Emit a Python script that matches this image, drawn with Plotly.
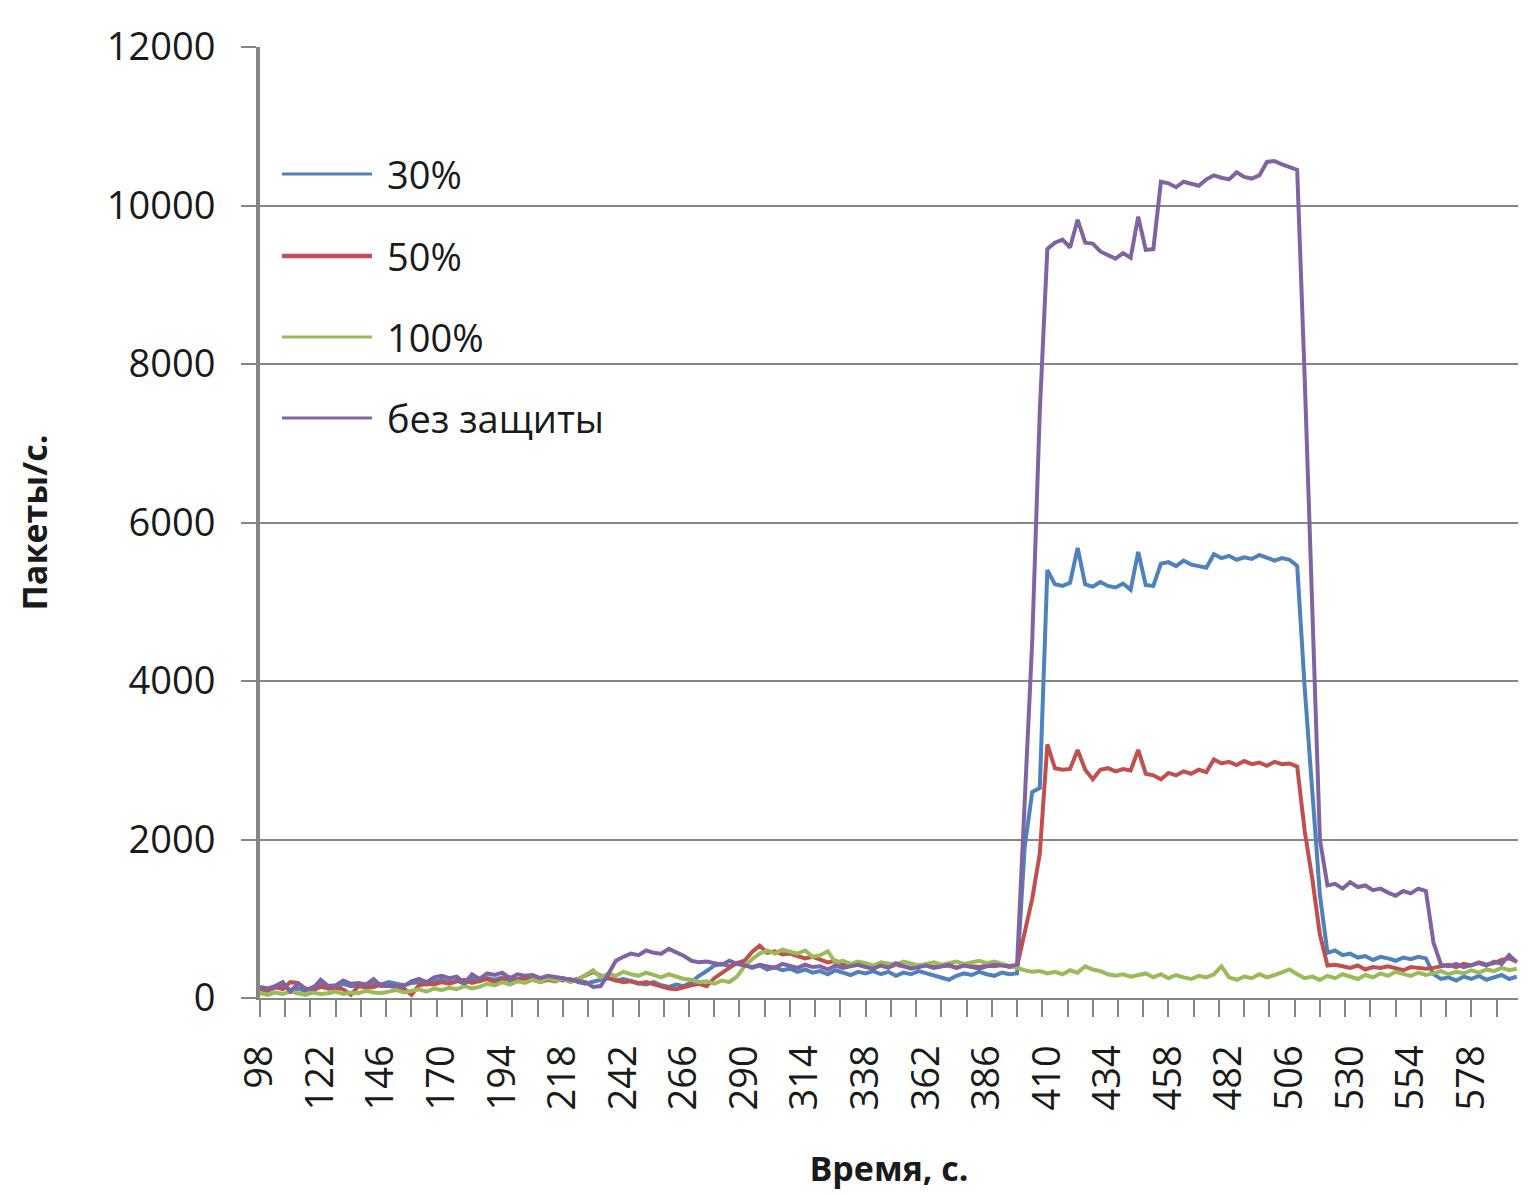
import plotly.graph_objects as go

# Time axis, seconds (sampled every 3 s)
time_s = list(range(98, 597, 3))

# Packets per second for each protection level
p30 = [
    110, 90, 130, 150, 100, 120, 90, 140, 170, 120,
    130, 180, 150, 160, 140, 190, 170, 200, 180, 160,
    190, 200, 170, 210, 230, 200, 220, 180, 240, 210,
    250, 230, 260, 220, 240, 250, 230, 210, 250, 230,
    220, 240, 200, 180, 210, 230, 250, 220, 240, 210,
    190, 170, 200, 160, 140, 170, 150, 200, 280, 340,
    410, 430, 400, 440, 420, 380, 410, 360, 390, 350,
    370, 330, 360, 320, 340, 300, 350, 320, 290, 330,
    310, 340, 300, 330, 280, 320, 300, 340, 310, 290,
    250, 230, 280, 310, 290, 330, 300, 280, 320, 300,
    310, 1900, 2600, 2650, 5400, 5220, 5200, 5240, 5680, 5220,
    5190, 5250, 5200, 5180, 5230, 5150, 5630, 5210, 5200, 5480,
    5500, 5450, 5520, 5470, 5450, 5430, 5600, 5550, 5580, 5530,
    5560, 5540, 5590, 5560, 5520, 5550, 5530, 5450, 3900, 2600,
    1300, 570, 600, 540, 560, 510, 530, 480, 520, 500,
    470, 510, 490, 520, 500, 300, 240, 260, 220, 270,
    240, 280, 230, 260, 290, 240, 270,
]
p50 = [
    120, 100, 140, 110, 200, 190, 120, 100, 140, 120,
    130, 110, 40, 150, 130, 140, 170, 150, 130, 120,
    40, 160, 180, 170, 200, 180, 210, 230, 190, 220,
    240, 200, 230, 260, 220, 250, 240, 200, 230, 210,
    250, 220, 240, 280, 330, 280, 250, 230, 200, 210,
    180, 200, 170, 150, 120, 110, 140, 160, 180, 150,
    250, 320, 380, 440, 470, 580, 660, 570, 590, 550,
    560, 530, 500, 520, 480, 450, 470, 430, 420, 440,
    410, 400, 430, 390, 420, 400, 380, 410, 420, 390,
    400, 410, 380, 420, 400, 390, 410, 400, 420, 390,
    400, 800, 1250, 1820, 3200, 2900, 2880, 2890, 3130, 2880,
    2760, 2880, 2900, 2860, 2890, 2870, 3130, 2830, 2810, 2760,
    2840, 2810, 2860, 2830, 2880, 2850, 3010, 2960, 2980, 2940,
    2990, 2950, 2970, 2930, 2980, 2950, 2960, 2920, 2100, 1500,
    800, 410, 420, 400, 380, 410, 360, 390, 380, 400,
    370, 350, 390, 380, 370, 380, 400, 420, 390, 430,
    410, 450, 420, 440, 480, 500, 460,
]
p100 = [
    60, 40, 70, 50, 80, 60, 40, 70, 50, 60,
    80, 50, 70, 60, 90, 70, 60, 80, 100, 70,
    90, 110, 80, 120, 100, 130, 110, 150, 120, 140,
    180, 160, 200, 170, 210, 190, 230, 200, 250, 220,
    240, 200, 230, 290, 350, 260, 310, 280, 330, 300,
    280, 320, 290, 260, 300, 270, 240, 230, 200, 210,
    180, 220, 200, 270, 400, 490, 560, 600, 560, 610,
    590, 560, 600, 520, 540, 590, 450, 470, 430, 460,
    440, 410, 450, 430, 420, 460, 440, 410, 430, 450,
    420, 440, 460, 430, 450, 470, 440, 460, 430, 410,
    380, 350, 330, 340, 310, 330, 300, 350, 320, 400,
    360, 340, 300, 280, 300, 270, 290, 310, 260, 300,
    250, 290, 260, 240, 280, 260, 300, 400, 260, 230,
    270, 250, 300, 260, 290, 330, 360, 300, 250, 270,
    230, 280, 250, 300, 270, 240, 290, 260, 310, 280,
    330, 300, 280, 320, 290, 310, 340, 300, 330, 310,
    350, 320, 360, 340, 380, 350, 370,
]
p_none = [
    140, 120, 150, 200, 80, 180, 110, 120, 230, 150,
    160, 220, 180, 190, 170, 240, 150, 150, 160, 150,
    210, 240, 200, 260, 280, 250, 270, 190, 300, 240,
    310, 290, 320, 250, 300, 280, 290, 250, 280, 270,
    250, 230, 220, 200, 140, 150, 300, 470, 520, 560,
    540, 600, 570, 560, 620, 580, 530, 470, 450, 460,
    440, 420, 470, 430, 410, 390, 420, 400, 380, 430,
    410, 380, 420, 390, 400, 360, 410, 380, 400, 420,
    390, 370, 410, 380, 440, 400, 370, 390, 410, 380,
    400, 420, 380, 410, 390, 370, 400, 420, 410, 400,
    420, 2400, 4500, 7400, 9450, 9530, 9570, 9470, 9820, 9530,
    9520, 9420, 9380, 9330, 9400, 9340, 9860, 9440, 9450, 10300,
    10280, 10230, 10300, 10270, 10250, 10330, 10380, 10350, 10330, 10420,
    10360, 10340, 10380, 10550, 10560, 10520, 10480, 10450, 7800, 4700,
    2000, 1420, 1440, 1380, 1460, 1400, 1420, 1360, 1380, 1330,
    1290, 1350, 1320, 1380, 1350, 700, 420, 400, 430, 390,
    420, 440, 410, 460, 430, 540, 450,
]

series_names = ["30%", "50%", "100%", "без защиты"]
series_values = [p30, p50, p100, p_none]
series_colors = ["#4F81BD", "#C0504D", "#9BBB59", "#8064A2"]

x_tick_labels = list(range(98, 579, 24))
y_tick_labels = [0, 2000, 4000, 6000, 8000, 10000, 12000]

FONT = "Open Sans"
TEXT = "#1a1a1a"
AXIS_GRAY = "#868686"

fig = go.Figure()
for name, vals, col in zip(series_names, series_values, series_colors):
    fig.add_trace(go.Scatter(
        x=time_s, y=vals, name=name, mode="lines",
        line=dict(color=col, width=4), showlegend=False,
    ))

# Hand-placed legend: long line samples with labels, inside the plot area
legend_rows = [0.8665, 0.7802, 0.6951, 0.6099]
legend_widths = [3, 4.5, 3, 3]
for name, col, yy, lw in zip(series_names, series_colors, legend_rows, legend_widths):
    fig.add_shape(type="line", xref="paper", yref="paper",
                  x0=0.0175, x1=0.089, y0=yy, y1=yy,
                  line=dict(color=col, width=lw))
    fig.add_annotation(xref="paper", yref="paper", x=0.0994, y=yy,
                       text=name, showarrow=False, xanchor="left", yanchor="middle",
                       font=dict(family=FONT, size=38, color=TEXT))

fig.update_layout(
    width=1537, height=1197,
    margin=dict(l=260, r=19, t=47, b=199),
    paper_bgcolor="white", plot_bgcolor="white",
    font=dict(family=FONT, size=38, color=TEXT),
)

fig.update_xaxes(
    range=[98, 596.5],
    tickmode="array", tickvals=x_tick_labels, ticktext=[str(v) for v in x_tick_labels],
    tickangle=-90,
    ticks="outside", ticklen=17, tickcolor="rgba(0,0,0,0)",
    ticklabelstandoff=13,
    tickfont=dict(family=FONT, size=38, color=TEXT),
    minor=dict(tickmode="linear", tick0=98, dtick=10, ticks="outside",
               ticklen=17, tickwidth=2, tickcolor=AXIS_GRAY, showgrid=False),
    showgrid=False, zeroline=False,
    showline=True, linecolor=AXIS_GRAY, linewidth=2,
    title=dict(text="<b>Время, с.</b>", font=dict(family=FONT, size=34, color=TEXT),
               standoff=48),
)
fig.update_yaxes(
    range=[0, 12000],
    tickmode="array", tickvals=y_tick_labels, ticktext=[str(v) for v in y_tick_labels],
    ticks="outside", ticklen=15, tickwidth=2, tickcolor=AXIS_GRAY,
    ticklabelstandoff=18,
    tickfont=dict(family=FONT, size=38, color=TEXT),
    showgrid=True, gridcolor=AXIS_GRAY, gridwidth=2,
    zeroline=False,
    showline=True, linecolor=AXIS_GRAY, linewidth=4,
    title=dict(text="<b>Пакеты/с.</b>", font=dict(family=FONT, size=34, color=TEXT),
               standoff=50),
)

fig.write_html("out.html")
